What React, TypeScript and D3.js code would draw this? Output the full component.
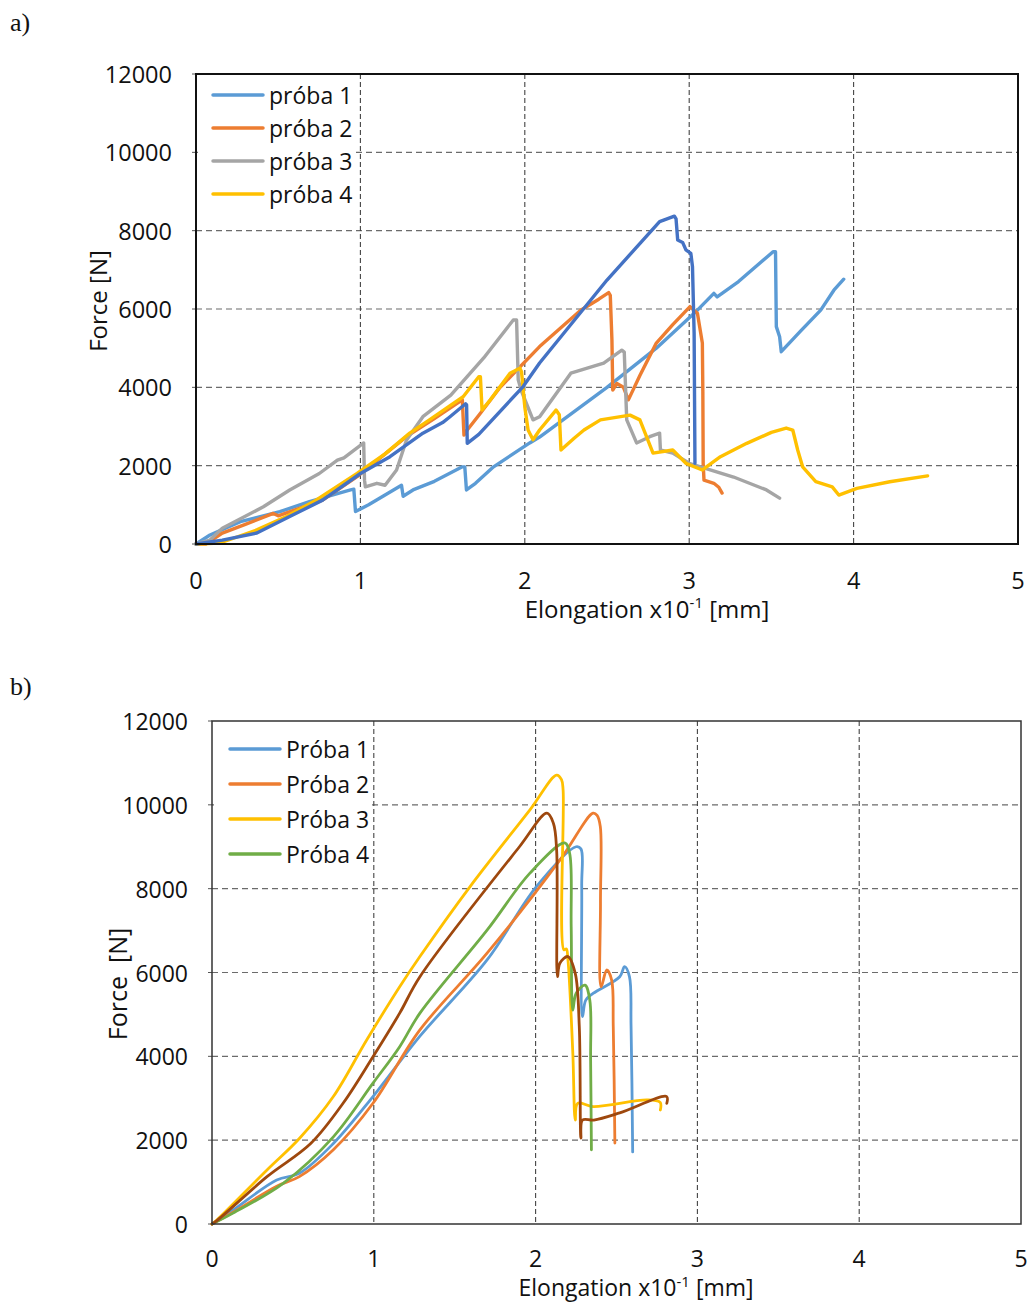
import React from "react";
import * as d3 from "d3";

type Pt = [number, number];

// ---------- Chart a) data ----------
const aLegend = ["próba 1", "próba 2", "próba 3", "próba 4"];
const aColors = ["#5B9BD5", "#ED7D31", "#A5A5A5", "#FFC000", "#4472C4"];

const aProba1: Pt[] = [[0,0],[0.085,230],[0.27,570],[0.51,825],[0.69,1080],[0.94,1380],[0.96,1400],[0.97,830],[1.05,1000],[1.25,1500],[1.26,1220],[1.32,1380],[1.45,1600],[1.62,1970],[1.635,1970],[1.645,1380],[1.7,1550],[1.81,1970],[2.03,2580],[2.09,2730],[2.5,4000],[2.8,5000],[3.05,5970],[3.15,6400],[3.17,6310],[3.3,6700],[3.51,7460],[3.525,7460],[3.53,5550],[3.55,5290],[3.56,4910],[3.68,5450],[3.80,5970],[3.88,6480],[3.94,6760]];
const aProba2: Pt[] = [[0,0],[0.06,0],[0.16,280],[0.3,500],[0.47,780],[0.5,720],[0.77,1120],[0.98,1720],[1.28,2740],[1.45,3200],[1.62,3680],[1.63,2780],[1.65,2910],[1.73,3340],[1.85,4000],[2.09,5040],[2.34,5970],[2.45,6250],[2.51,6420],[2.52,6350],[2.53,5210],[2.535,3930],[2.56,4100],[2.6,4000],[2.63,3680],[2.7,4300],[2.8,5130],[2.9,5600],[3.005,6060],[3.05,5890],[3.08,5130],[3.083,3890],[3.085,2060],[3.09,1630],[3.15,1550],[3.18,1450],[3.20,1300]];
const aProba3: Pt[] = [[0,0],[0.085,100],[0.16,400],[0.41,950],[0.57,1380],[0.75,1800],[0.86,2140],[0.9,2200],[1.0,2520],[1.02,2580],[1.025,1630],[1.03,1460],[1.1,1550],[1.15,1500],[1.22,1890],[1.28,2650],[1.38,3250],[1.55,3800],[1.75,4750],[1.93,5720],[1.95,5720],[1.96,4190],[1.98,3900],[2.05,3170],[2.09,3250],[2.28,4360],[2.38,4490],[2.48,4620],[2.59,4950],[2.605,4900],[2.62,3170],[2.68,2580],[2.76,2740],[2.82,2830],[2.825,2400],[2.9,2320],[3.0,2060],[3.27,1710],[3.47,1380],[3.55,1170]];
const aProba4: Pt[] = [[0,0],[0.146,25],[0.37,360],[0.55,700],[0.73,1120],[0.98,1800],[1.15,2300],[1.30,2830],[1.42,3170],[1.625,3760],[1.72,4270],[1.73,4270],[1.74,3420],[1.79,3680],[1.91,4360],[1.97,4490],[1.98,4400],[2.0,3500],[2.02,2910],[2.05,2660],[2.09,2910],[2.19,3420],[2.21,3300],[2.22,2400],[2.3,2700],[2.36,2910],[2.46,3170],[2.64,3290],[2.70,3170],[2.78,2320],[2.90,2400],[2.98,2060],[3.08,1890],[3.19,2230],[3.35,2570],[3.5,2850],[3.59,2960],[3.63,2910],[3.66,2400],[3.69,1970],[3.77,1590],[3.87,1460],[3.91,1250],[4.02,1420],[4.22,1590],[4.45,1740]];
const aExtra: Pt[] = [[0,0],[0.16,100],[0.37,280],[0.57,700],[0.77,1120],[1.0,1800],[1.18,2230],[1.38,2830],[1.5,3100],[1.545,3250],[1.64,3580],[1.646,3550],[1.65,2570],[1.72,2800],[1.99,4020],[2.09,4620],[2.50,6740],[2.82,8230],[2.91,8370],[2.92,8300],[2.93,7760],[2.96,7700],[2.98,7510],[3.01,7420],[3.02,7080],[3.03,5380],[3.035,2060]];

// ---------- Chart b) data ----------
const bLegend = ["Próba 1", "Próba 2", "Próba 3", "Próba 4"];
const bColors = ["#5B9BD5", "#ED7D31", "#FFC000", "#70AD47", "#9E480E"];

const bProba1: Pt[] = [[0,0],[0.13,330],[0.40,1050],[0.54,1210],[0.75,1920],[0.995,3040],[1.285,4480],[1.70,6300],[2.005,8050],[2.25,9000],[2.28,8950],[2.285,8050],[2.29,4950],[2.31,5340],[2.355,5500],[2.52,5900],[2.55,6140],[2.58,5900],[2.59,4710],[2.60,1720]];
const bProba2: Pt[] = [[0,0],[0.13,280],[0.4,900],[0.54,1130],[0.75,1770],[0.995,2880],[1.285,4630],[1.70,6460],[2.15,8680],[2.355,9800],[2.38,9750],[2.40,9480],[2.401,7650],[2.405,5660],[2.44,6060],[2.47,5820],[2.48,4710],[2.49,1930]];
const bProba3: Pt[] = [[0,0],[0.03,95],[0.34,1290],[0.54,2040],[0.75,3040],[0.956,4390],[1.16,5660],[1.285,6380],[1.595,8050],[1.965,9880],[2.13,10710],[2.16,10600],[2.17,10350],[2.175,6540],[2.19,6560],[2.2,6300],[2.23,4080],[2.245,2480],[2.26,2880],[2.355,2800],[2.69,2960],[2.77,2900],[2.771,2720]];
const bProba4: Pt[] = [[0,0],[0.13,260],[0.44,970],[0.75,2080],[0.995,3360],[1.16,4230],[1.285,5030],[1.70,7010],[1.965,8370],[2.18,9090],[2.21,8850],[2.22,7090],[2.23,5100],[2.25,5500],[2.305,5700],[2.335,5340],[2.34,3910],[2.345,1770]];
const bExtra: Pt[] = [[0,0],[0.03,80],[0.34,1130],[0.61,1920],[0.81,2880],[0.995,3990],[1.16,5030],[1.285,5900],[1.90,9000],[2.07,9800],[2.11,9560],[2.13,8920],[2.135,5900],[2.15,6220],[2.20,6380],[2.245,5980],[2.27,4710],[2.28,2050],[2.29,2480],[2.36,2480],[2.52,2650],[2.81,3040],[2.811,2880]];

const xTicks = [0, 1, 2, 3, 4, 5];
const yTicks = [0, 2000, 4000, 6000, 8000, 10000, 12000];

const FONT = "'Open Sans', 'Liberation Sans', sans-serif";

interface PanelProps {
  left: number; right: number; top: number; bottom: number;
  series: Pt[][]; colors: string[]; legend: string[];
  legendX: number; legendY: number; legendStep: number;
  legendBox: [number, number, number, number];
  frameWidth: number; frameColor: string;
  yTitle: string; yTitleX: number; yTitleY: number; yTitleSize: number;
  xTitleX: number; xTitleY: number; xTitleSize: number; xLabelY: number; yLabelGap: number;
  lineWidth: number; smooth: boolean; tickSize: number; legendSize: number;
}

function Panel(p: PanelProps) {
  const x = d3.scaleLinear().domain([0, 5]).range([p.left, p.right]);
  const y = d3.scaleLinear().domain([0, 12000]).range([p.bottom, p.top]);
  const line = d3.line<Pt>().x(d => x(d[0])).y(d => y(d[1]))
    .curve(p.smooth ? d3.curveCatmullRom.alpha(0.5) : d3.curveLinear);
  const [bx, by, bw, bh] = p.legendBox;
  return (
    <g>
      {yTicks.filter(t => t > 0 && t < 12000).map(t => (
        <line key={"gy" + t} x1={p.left} x2={p.right} y1={y(t)} y2={y(t)}
          stroke="#6b6b6b" strokeWidth={1.2} strokeDasharray="6,4" />
      ))}
      {xTicks.filter(t => t > 0 && t < 5).map(t => (
        <line key={"gx" + t} x1={x(t)} x2={x(t)} y1={p.top} y2={p.bottom}
          stroke="#444" strokeWidth={1.1} strokeDasharray="5,3" />
      ))}
      {yTicks.map(t => (
        <line key={"ty" + t} x1={p.left - 4} x2={p.left} y1={y(t)} y2={y(t)} stroke="#555" strokeWidth={1} />
      ))}
      <rect x={bx} y={by} width={bw} height={bh} fill="#fff" />
      {p.series.map((s, i) => (
        <path key={"s" + i} d={line(s) || ""} fill="none" stroke={p.colors[i]}
          strokeWidth={p.lineWidth} strokeLinejoin="round" strokeLinecap="round" />
      ))}
      <rect x={p.left} y={p.top} width={p.right - p.left} height={p.bottom - p.top}
        fill="none" stroke={p.frameColor} strokeWidth={p.frameWidth} />
      {yTicks.map(t => (
        <text key={"ly" + t} x={p.left - p.yLabelGap} y={y(t)} textAnchor="end"
          dominantBaseline="central" fontFamily={FONT} fontSize={p.tickSize} fill="#111">{t}</text>
      ))}
      {xTicks.map(t => (
        <text key={"lx" + t} x={x(t)} y={p.xLabelY} textAnchor="middle"
          dominantBaseline="central" fontFamily={FONT} fontSize={p.tickSize} fill="#111">{t}</text>
      ))}
      {p.legend.map((name, i) => (
        <g key={"lg" + i}>
          <line x1={p.legendX} x2={p.legendX + 50} y1={p.legendY + i * p.legendStep}
            y2={p.legendY + i * p.legendStep} stroke={p.colors[i]} strokeWidth={3.5} strokeLinecap="round" />
          <text x={p.legendX + 56} y={p.legendY + i * p.legendStep} dominantBaseline="central"
            fontFamily={FONT} fontSize={p.legendSize} fill="#111">{name}</text>
        </g>
      ))}
      <text transform={`translate(${p.yTitleX},${p.yTitleY}) rotate(-90)`} textAnchor="middle"
        dominantBaseline="central" fontFamily={FONT} fontSize={p.yTitleSize} fill="#111" style={{ whiteSpace: "pre" }}>{p.yTitle}</text>
      <text x={p.xTitleX} y={p.xTitleY} textAnchor="middle" dominantBaseline="central"
        fontFamily={FONT} fontSize={p.xTitleSize} fill="#111">
        Elongation x10<tspan fontSize={15} baselineShift="40%">-1</tspan> [mm]
      </text>
    </g>
  );
}

export default function App() {
  return (
    <svg width={1027} height={1304} style={{ position: "absolute", left: 0, top: 0, background: "#fff" }}>
      <rect x={0} y={0} width={1027} height={1304} fill="#fff" />
      <text x={10} y={22} dominantBaseline="central" fontFamily="'Liberation Serif', serif" fontSize={26} fill="#111">a)</text>
      <text x={10} y={686} dominantBaseline="central" fontFamily="'Liberation Serif', serif" fontSize={26} fill="#111">b)</text>
      <Panel left={196} right={1018} top={74} bottom={544}
        series={[aProba1, aProba2, aProba3, aProba4, aExtra]} colors={aColors} legend={aLegend}
        legendX={213} legendY={95} legendStep={33} legendBox={[198, 78, 158, 133]}
        frameWidth={2} frameColor="#111"
        yTitle="Force [N]" yTitleX={97} yTitleY={301} yTitleSize={24}
        xTitleX={647} xTitleY={608} xTitleSize={24} xLabelY={580} yLabelGap={24}
        lineWidth={3.4} smooth={false} tickSize={23.5} legendSize={23} />
      <Panel left={212} right={1021} top={721} bottom={1224}
        series={[bProba1, bProba2, bProba3, bProba4, bExtra]} colors={bColors} legend={bLegend}
        legendX={230} legendY={749} legendStep={35} legendBox={[214, 730, 158, 142]}
        frameWidth={1.5} frameColor="#333"
        yTitle="Force  [N]" yTitleX={117} yTitleY={984} yTitleSize={25}
        xTitleX={636} xTitleY={1287} xTitleSize={23} xLabelY={1258} yLabelGap={24}
        lineWidth={2.8} smooth={true} tickSize={23} legendSize={23} />
    </svg>
  );
}
